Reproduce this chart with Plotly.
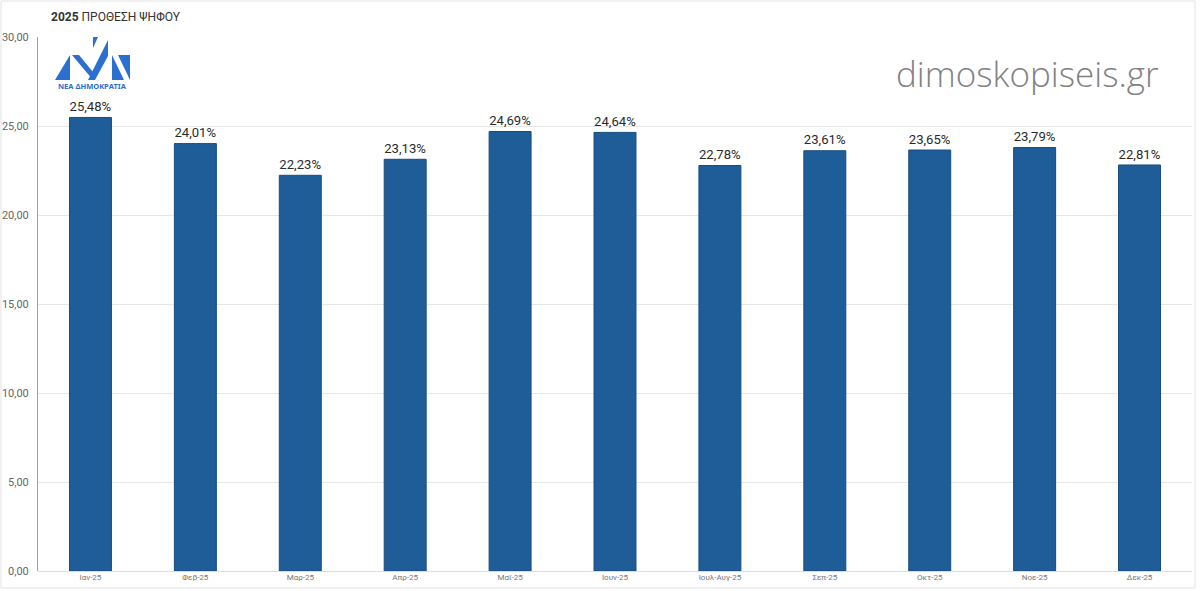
import plotly.graph_objects as go

months = ["Ιαν-25", "Φεβ-25", "Μαρ-25", "Απρ-25", "Μαϊ-25", "Ιουν-25",
          "Ιουλ-Αυγ-25", "Σεπ-25", "Οκτ-25", "Νοε-25", "Δεκ-25"]
values = [25.48, 24.01, 22.23, 23.13, 24.69, 24.64, 22.78, 23.61, 23.65, 23.79, 22.81]
labels = [f"{v:.2f}%".replace(".", ",") for v in values]
y_ticks = [0, 5, 10, 15, 20, 25, 30]

W, H = 1200, 591
L, R, T, B = 38, 8, 37, 20
pw, ph = W - L - R, H - T - B

def px(x):
    return (x - L) / pw

def py(y):
    return (H - B - y) / ph

fig = go.Figure()
fig.add_trace(go.Bar(
    x=months, y=values, width=0.4,
    marker=dict(color="#1F5D99", line=dict(color="#184C80", width=1)),
    text=labels, textposition="outside", cliponaxis=False,
    textfont=dict(family="Roboto", size=16, color="#2A2A2A"),
    hoverinfo="x+y",
))

fig.update_layout(
    width=W, height=H,
    margin=dict(l=L, r=R, t=T, b=B, autoexpand=False),
    plot_bgcolor="white", paper_bgcolor="white",
    separators=",.",
    showlegend=False,
    bargap=0.6,
    xaxis=dict(
        showgrid=False, showline=False, ticks="", automargin=False,
        tickfont=dict(family="Roboto", size=8, color="#777777"),
    ),
    yaxis=dict(
        range=[0, 30], tickvals=y_ticks, tickformat=".2f", automargin=False,
        showgrid=True, gridcolor="#E6E6E6", gridwidth=1,
        zeroline=True, zerolinecolor="#DDDDDD", zerolinewidth=1,
        showline=True, linecolor="#A0A0A0", linewidth=1,
        tickfont=dict(family="Roboto", size=11, color="#666666"),
        ticklabelstandoff=6,
    ),
)

# Title
fig.add_annotation(
    xref="paper", yref="paper", x=px(49), y=py(17),
    xanchor="left", yanchor="middle", showarrow=False,
    text="<b>2025</b> ΠΡΟΘΕΣΗ ΨΗΦΟΥ",
    font=dict(family="Roboto", size=12, color="#333333"),
)

# Watermark
fig.add_annotation(
    xref="paper", yref="paper", x=px(1027), y=py(73),
    xanchor="center", yanchor="middle", showarrow=False,
    text="dimoskopiseis.gr",
    font=dict(family="Open Sans", size=35, color="#828282", weight=300),
)

# Logo: stylized triangles
logo_c = "#2B6FD1"
def path(pts):
    return "M " + " L ".join(f"{px(x)},{py(y)}" for x, y in pts) + " Z"

tris = [
    [(55, 80), (70, 55), (70, 80)],
    [(72, 55), (93, 80), (93, 72), (79, 55)],
    [(93, 37), (98, 37), (93, 48)],
    [(88, 80), (108, 40), (108, 56), (95, 80)],
    [(112, 80), (112, 55), (124, 80)],
    [(118, 55), (130, 55), (130, 80)],
]
for t in tris:
    fig.add_shape(type="path", xref="paper", yref="paper", path=path(t),
                  fillcolor=logo_c, line=dict(width=0), layer="above")

fig.add_annotation(
    xref="paper", yref="paper", x=px(92), y=py(86),
    xanchor="center", yanchor="middle", showarrow=False,
    text="<b>ΝΕΑ ΔΗΜΟΚΡΑΤΙΑ</b>",
    font=dict(family="Noto Sans", size=7.5, color=logo_c),
)

# Frame
fig.add_shape(type="rect", xref="paper", yref="paper",
              x0=px(1), x1=px(1195), y0=py(588), y1=py(1),
              line=dict(color="#E3E3E3", width=1), fillcolor="rgba(0,0,0,0)")

fig.write_html("out.html",
               config={"displayModeBar": False},
               post_script="document.body.style.margin='0';document.body.style.overflow='hidden';")
